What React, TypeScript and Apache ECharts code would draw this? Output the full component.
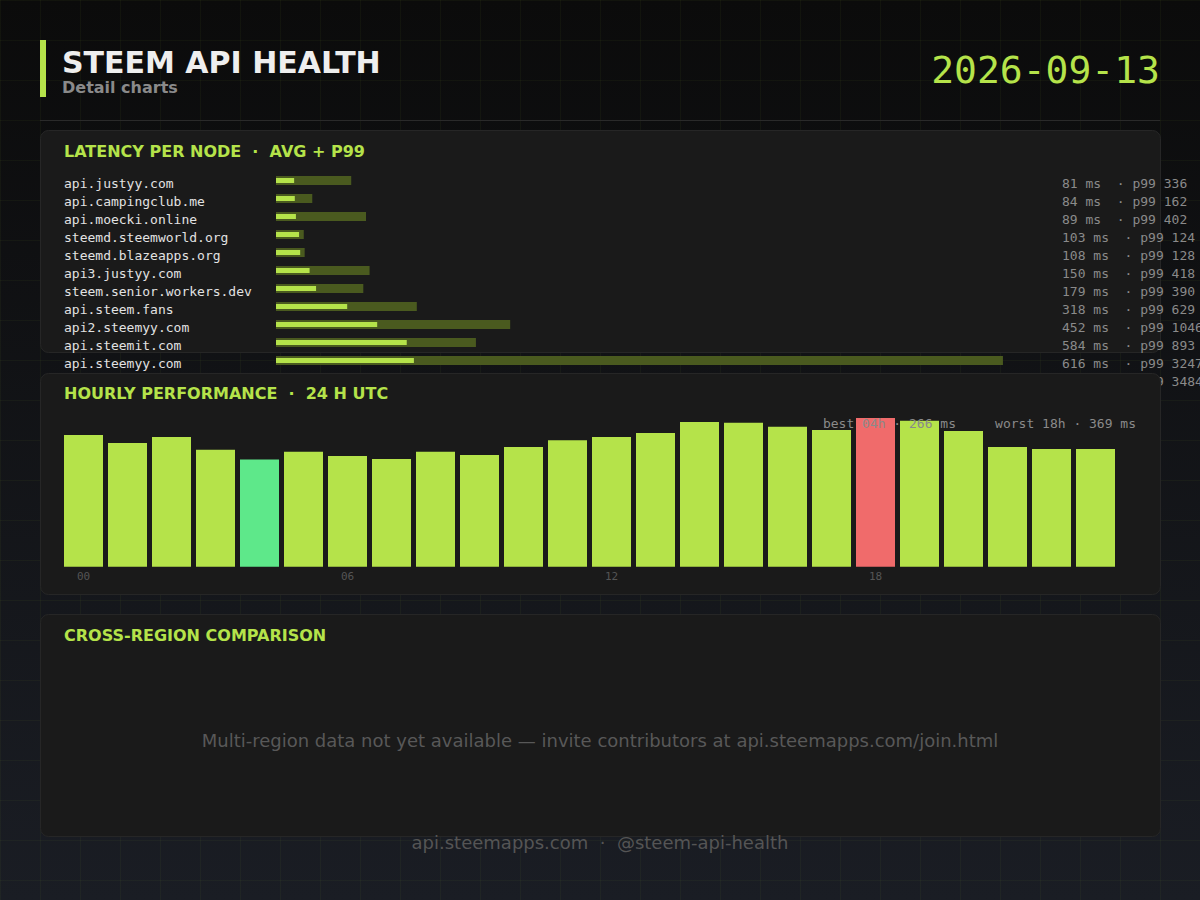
// Steem API health: detail charts page, drawn as one ECharts canvas (svg renderer)
import { useEffect, useRef } from "react";
import * as echarts from "echarts";

const nodes = [
  "api.justyy.com",
  "api.campingclub.me",
  "api.moecki.online",
  "steemd.steemworld.org",
  "steemd.blazeapps.org",
  "api3.justyy.com",
  "steem.senior.workers.dev",
  "api.steem.fans",
  "api2.steemyy.com",
  "api.steemit.com",
  "api.steemyy.com",
  "", // 12th node sits under the hourly card, its name is not readable
];
const avgMs = [81, 84, 89, 103, 108, 150, 179, 318, 452, 584, 616, 702];
const p99Ms = [336, 162, 402, 124, 128, 418, 390, 629, 1046, 893, 3247, 3484];

const hours = [
  "00", "01", "02", "03", "04", "05", "06", "07", "08", "09", "10", "11",
  "12", "13", "14", "15", "16", "17", "18", "19", "20", "21", "22", "23",
];
const hourlyMs = [
  327, 307, 322, 290, 266, 285, 275, 267, 285, 277, 297, 314,
  322, 332, 359, 357, 347, 339, 369, 362, 337, 297, 292, 292,
];

const LIME = "#b5e34a";
const OLIVE = "#4a5a1f";
const GREEN = "#5ee88a";
const RED = "#f06b6b";
const CARD = "#1a1a1a";
const CARD_LINE = "#262626";
const SANS = "'DejaVu Sans', sans-serif";
const MONO = "'DejaVu Sans Mono', monospace";

function txt(x: number, y: number, text: string, font: string, fill: string, align = "left", z = 1) {
  return {
    type: "text",
    x,
    y,
    z,
    silent: true,
    style: {
      text,
      font,
      fill,
      align,
      verticalAlign: "middle",
      textAlign: align,
      textVerticalAlign: "middle",
    },
  };
}

function card(y: number, h: number, z: number) {
  return {
    type: "rect",
    z,
    silent: true,
    shape: { x: 40.5, y: y + 0.5, width: 1120, height: h, r: 8 },
    style: { fill: CARD, stroke: CARD_LINE, lineWidth: 1 },
  };
}

export default function App() {
  const ref = useRef<HTMLDivElement>(null);

  useEffect(() => {
    if (!ref.current) return;
    const chart = echarts.init(ref.current, null, { renderer: "svg" });

    const lines: any[] = [];
    for (let x = 0; x <= 1200; x += 40) {
      lines.push({
        type: "line",
        z: 0,
        silent: true,
        shape: { x1: x + 0.5, y1: 0, x2: x + 0.5, y2: 900 },
        style: { stroke: "rgba(181,227,74,0.045)", lineWidth: 1 },
      });
    }
    for (let y = 0; y <= 900; y += 40) {
      lines.push({
        type: "line",
        z: 0,
        silent: true,
        shape: { x1: 0, y1: y + 0.5, x2: 1200, y2: y + 0.5 },
        style: { stroke: "rgba(181,227,74,0.045)", lineWidth: 1 },
      });
    }

    const best = hourlyMs.indexOf(Math.min(...hourlyMs));
    const worst = hourlyMs.indexOf(Math.max(...hourlyMs));
    const note =
      `best ${hours[best]}h · ${hourlyMs[best]} ms     ` +
      `worst ${hours[worst]}h · ${hourlyMs[worst]} ms`;

    chart.setOption({
      animation: false,
      graphic: {
        elements: [
          {
            type: "rect",
            z: -1,
            silent: true,
            shape: { x: 0, y: 0, width: 1200, height: 900 },
            style: {
              fill: new echarts.graphic.LinearGradient(0, 0, 0, 1, [
                { offset: 0, color: "#0b0b0b" },
                { offset: 1, color: "#1a1d24" },
              ]),
            },
          },
          ...lines,
          {
            type: "rect",
            z: 1,
            silent: true,
            shape: { x: 40, y: 40, width: 6, height: 57 },
            style: { fill: LIME },
          },
          txt(62, 62, "STEEM API HEALTH", `bold 30px ${SANS}`, "#eeeeee"),
          txt(62, 87, "Detail charts", `bold 16px ${SANS}`, "#8a8a8a"),
          txt(1160, 70, "2026-09-13", `38px ${MONO}`, LIME, "right"),
          {
            type: "line",
            z: 1,
            silent: true,
            shape: { x1: 40, y1: 120.5, x2: 1160, y2: 120.5 },
            style: { stroke: "#2a2a2a", lineWidth: 1 },
          },
          card(130, 222, 1),
          txt(64, 151, "LATENCY PER NODE  ·  AVG + P99", `bold 16px ${SANS}`, LIME, "left", 2),
          card(373, 221, 5),
          txt(64, 393, "HOURLY PERFORMANCE  ·  24 H UTC", `bold 16px ${SANS}`, LIME, "left", 6),
          txt(1136, 423, note, `13px ${MONO}`, "#8a8a8a", "right", 9),
          card(614, 222, 5),
          txt(64, 635, "CROSS-REGION COMPARISON", `bold 16px ${SANS}`, LIME, "left", 6),
          txt(
            600,
            740,
            "Multi-region data not yet available — invite contributors at api.steemapps.com/join.html",
            `18px ${SANS}`,
            "#585858",
            "center",
            6
          ),
          txt(600, 842.5, "api.steemapps.com  ·  @steem-api-health", `18px ${SANS}`, "#555555", "center", 6),
        ],
      },
      grid: [
        { left: 276, right: 144, top: 171.5, height: 216, outerBoundsMode: "none", containLabel: false },
        { left: 61.5, right: 82.5, top: 405.5, height: 161.2, outerBoundsMode: "none", containLabel: false },
      ],
      xAxis: [
        { type: "value", gridIndex: 0, min: 0, max: Math.max(...p99Ms), show: false },
        {
          type: "category",
          gridIndex: 1,
          data: hours,
          z: 6,
          axisLine: { show: false },
          axisTick: { show: false },
          axisLabel: {
            interval: 5,
            margin: 4,
            color: "#555555",
            fontFamily: MONO,
            fontSize: 11,
          },
        },
      ],
      yAxis: [
        {
          type: "category",
          gridIndex: 0,
          data: nodes,
          inverse: true,
          z: 3,
          axisLine: { show: false },
          axisTick: { show: false },
          axisLabel: {
            align: "left",
            verticalAlign: "top",
            lineHeight: 6,
            margin: 212,
            color: "#e2e2e2",
            fontFamily: MONO,
            fontSize: 13,
          },
        },
        {
          type: "category",
          gridIndex: 0,
          position: "right",
          data: nodes.map((_, i) => `${avgMs[i]} ms  · p99 ${p99Ms[i]}`),
          inverse: true,
          z: 3,
          axisLine: { show: false },
          axisTick: { show: false },
          axisLabel: {
            align: "left",
            verticalAlign: "top",
            lineHeight: 6,
            margin: 6,
            color: "#8a8a8a",
            fontFamily: MONO,
            fontSize: 13,
          },
        },
        { type: "value", gridIndex: 1, min: 0, max: 400, show: false },
      ],
      series: [
        {
          type: "bar",
          name: "p99",
          xAxisIndex: 0,
          yAxisIndex: 0,
          z: 3,
          barWidth: 9,
          data: p99Ms,
          itemStyle: { color: OLIVE },
          silent: true,
        },
        {
          type: "bar",
          name: "avg",
          xAxisIndex: 0,
          yAxisIndex: 1,
          z: 4,
          barWidth: 5,
          data: avgMs,
          itemStyle: { color: LIME },
          silent: true,
        },
        {
          type: "bar",
          name: "hourly",
          xAxisIndex: 1,
          yAxisIndex: 2,
          z: 7,
          barWidth: 39,
          data: hourlyMs,
          itemStyle: {
            color: (p: any) =>
              p.dataIndex === best ? GREEN : p.dataIndex === worst ? RED : LIME,
          },
          silent: true,
        },
      ],
    });

    return () => chart.dispose();
  }, []);

  return (
    <div
      ref={ref}
      style={{ position: "absolute", left: 0, top: 0, width: 1200, height: 900 }}
    />
  );
}
